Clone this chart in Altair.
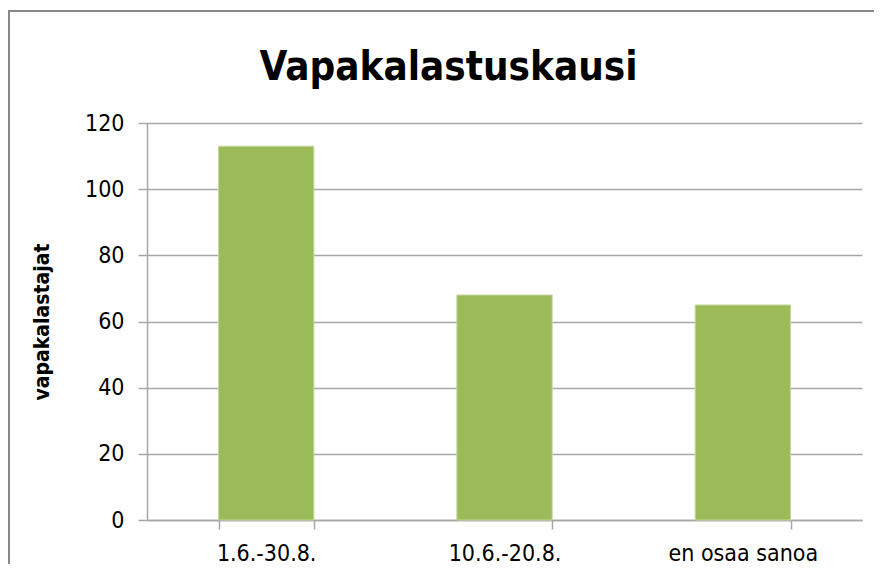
import altair as alt
import pandas as pd

categories = ["1.6.-30.8.", "10.6.-20.8.", "en osaa sanoa"]
values = [113, 68, 65]
y_ticks = [0, 20, 40, 60, 80, 100, 120]

df = pd.DataFrame({"kausi": categories, "vapakalastajat": values})

FONT = "Liberation Sans Narrow, DejaVu Sans Condensed, Open Sans, sans-serif"
GRID = "#a6a6a6"

bars = alt.Chart(df).mark_bar(color="#9bbb59", stroke="#c5d8a0", strokeWidth=1).encode(
    x=alt.X("kausi:N", sort=categories, title=None,
            scale=alt.Scale(paddingInner=0.6, paddingOuter=0.3),
            axis=alt.Axis(labelAngle=0, labelFontSize=23, labelFont=FONT, labelColor="#000",
                          labelPadding=13, tickBand="extent", tickSize=9, tickColor=GRID,
                          domainColor=GRID, domainWidth=1.5, tickWidth=1.5, grid=False)),
    y=alt.Y("vapakalastajat:Q", title="vapakalastajat",
            scale=alt.Scale(domain=[0, 120], nice=False),
            axis=alt.Axis(values=y_ticks, labelFontSize=23, labelFont=FONT, labelColor="#000",
                          labelPadding=14, tickSize=9, tickColor=GRID, tickWidth=1.5,
                          domainColor=GRID, domainWidth=1.5,
                          gridColor=GRID, gridWidth=1.5,
                          titleFont=FONT, titleFontSize=21, titleFontWeight="bold",
                          titleColor="#000", titlePadding=32)),
)

frame_left = alt.Chart(df).mark_rule(color="#888888", strokeWidth=2).encode(
    x=alt.value(-138), y=alt.value(-112), y2=alt.value(460)
)
frame_top = alt.Chart(df).mark_rule(color="#888888", strokeWidth=2).encode(
    x=alt.value(-139), x2=alt.value(730), y=alt.value(-112)
)

chart = alt.layer(bars, frame_left, frame_top).properties(
    width=715,
    height=397,
    padding={"left": 139, "top": 115, "right": 12, "bottom": 44},
    autosize=alt.AutoSizeParams(type="none"),
    title=alt.TitleParams("Vapakalastuskausi", font=FONT, fontSize=40, fontWeight="bold",
                          color="#000", anchor="middle", dx=-56, offset=-78),
).configure_view(stroke=None)

chart.save("out.html", embed_options={"renderer": "svg", "actions": False})
